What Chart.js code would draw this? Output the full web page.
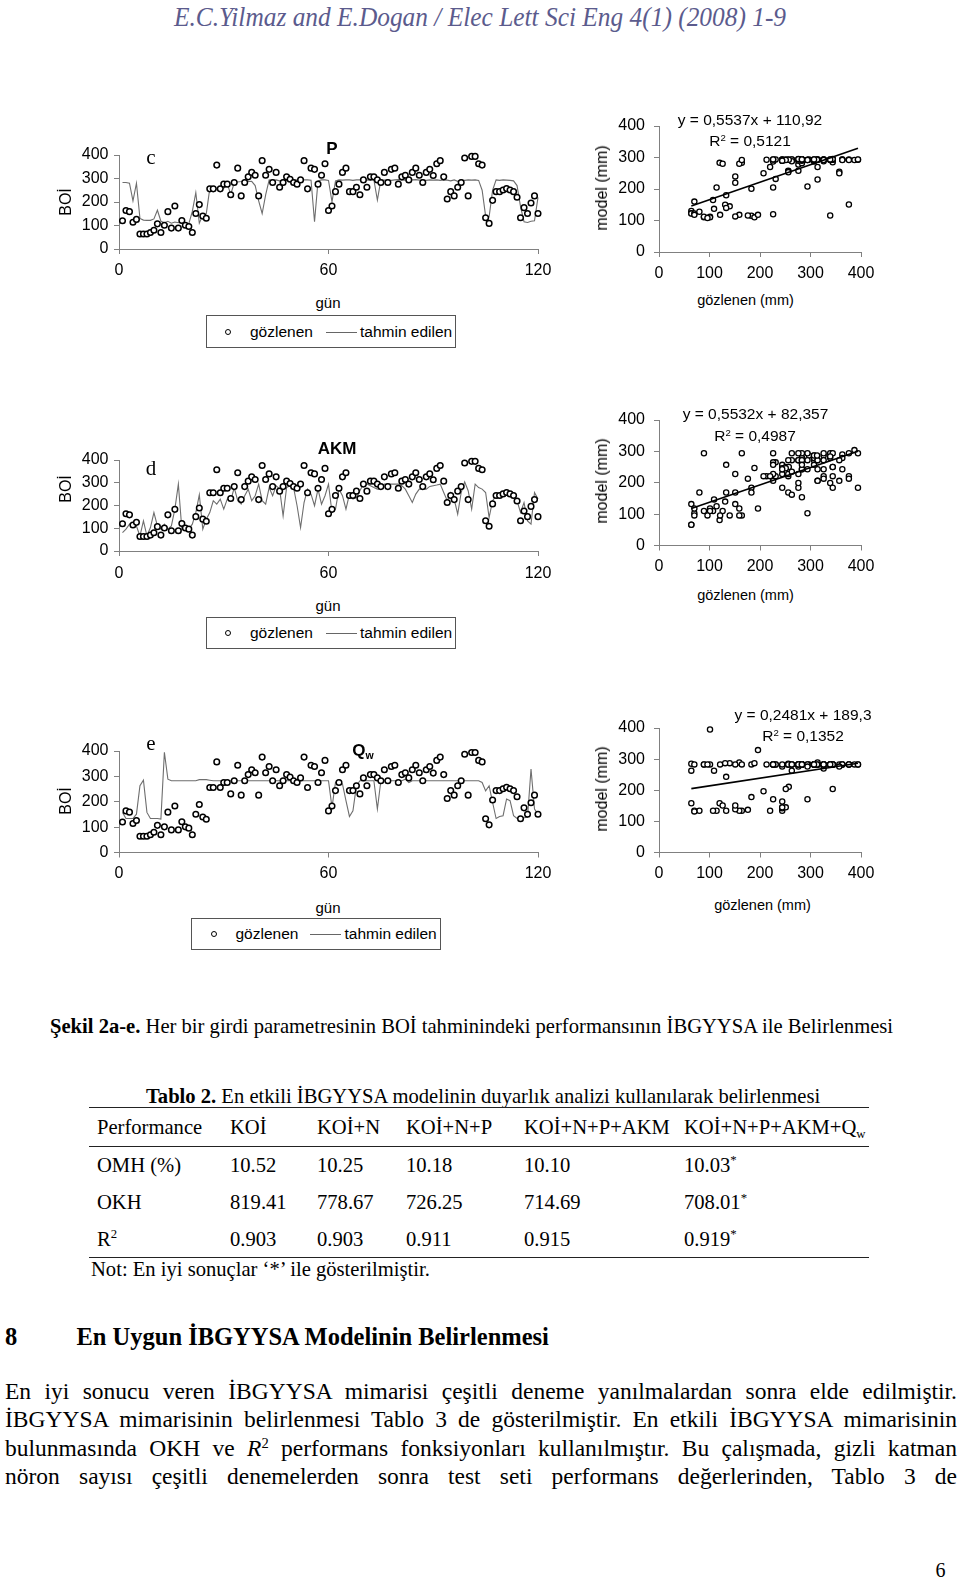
<!DOCTYPE html>
<html lang="tr"><head><meta charset="utf-8">
<title>Şekil 2a-e</title>
<script src="https://cdn.jsdelivr.net/npm/chart.js@4.4.1/dist/chart.umd.min.js"></script>
<style>
html,body{margin:0;padding:0;background:#fff;}
#page{position:relative;width:960px;height:1580px;overflow:hidden;background:#fff;color:#000;font-family:"Liberation Serif","Times New Roman",serif;}
#page canvas{position:absolute;}
.t{position:absolute;white-space:nowrap;line-height:1;}
.c{transform:translate(-50%,-50%);}
.lc{transform:translate(0,-50%);}
.rot{transform:translate(-50%,-50%) rotate(-90deg);}
.sans{font-family:"Liberation Sans",Arial,sans-serif;}
.legend{position:absolute;border:1px solid #555;box-sizing:border-box;font-family:"Liberation Sans",Arial,sans-serif;font-size:15.5px;}
.legend .mk{position:absolute;top:50%;width:4px;height:4px;border:1.3px solid #000;border-radius:50%;transform:translate(-50%,-50%);background:#fff;}
.legend .ln{position:absolute;top:50%;height:0;border-top:1px solid #666;}
.legend .lt{position:absolute;top:50%;transform:translateY(-50%);line-height:1;white-space:nowrap;}
.rule{position:absolute;height:0;border-top:1.5px solid #222;}
.sup{font-size:62%;position:relative;top:-0.55em;}
.sub{font-size:62%;position:relative;top:0.3em;}
.para{position:absolute;left:5px;width:952px;font-size:23.5px;line-height:1;text-align:justify;text-align-last:justify;white-space:nowrap;transform:translateY(-50%);}
</style></head>
<body>
<div id="page">
  <div class="t" style="left:479.5px;top:17px;font-style:italic;font-size:27px;color:#5b5b8d;transform:translate(-50%,-50%) scaleX(0.94)">E.C.Yilmaz and E.Dogan / Elec Lett Sci Eng 4(1) (2008) 1-9</div>

  <!-- row 1 -->
  <canvas id="l1"></canvas><canvas id="r1"></canvas>
  <div class="t rot sans" style="left:66px;top:201.5px;font-size:16px">BOİ</div>
  <div class="t c sans" style="left:328px;top:302px;font-size:15px">gün</div>
  <div class="t c" style="left:151px;top:157px;font-size:21px">c</div>
  <div class="t c sans" style="left:332px;top:148px;font-size:17px;font-weight:bold">P</div>
  <div class="legend" style="left:206px;top:315px;width:250px;height:33px">
    <span class="mk" style="left:21px"></span><span class="lt" style="left:43px">gözlenen</span><span class="ln" style="left:119px;width:31px"></span><span class="lt" style="left:153px">tahmin edilen</span>
  </div>
  <div class="t rot sans" style="left:602px;top:187.5px;font-size:16px">model (mm)</div>
  <div class="t c sans" style="left:745.5px;top:300px;font-size:14.5px">gözlenen (mm)</div>
  <div class="t c sans" style="left:750px;top:119.5px;font-size:15.5px">y = 0,5537x + 110,92</div>
  <div class="t c sans" style="left:750px;top:141px;font-size:15.5px">R<span class="sup">2</span> = 0,5121</div>

  <!-- row 2 -->
  <canvas id="l2"></canvas><canvas id="r2"></canvas>
  <div class="t rot sans" style="left:66px;top:489px;font-size:16px">BOİ</div>
  <div class="t c sans" style="left:328px;top:605px;font-size:15px">gün</div>
  <div class="t c" style="left:151px;top:468px;font-size:21px">d</div>
  <div class="t c sans" style="left:337px;top:448px;font-size:17px;font-weight:bold">AKM</div>
  <div class="legend" style="left:206px;top:617px;width:250px;height:32px">
    <span class="mk" style="left:21px"></span><span class="lt" style="left:43px">gözlenen</span><span class="ln" style="left:119px;width:31px"></span><span class="lt" style="left:153px">tahmin edilen</span>
  </div>
  <div class="t rot sans" style="left:602px;top:480.5px;font-size:16px">model (mm)</div>
  <div class="t c sans" style="left:745.5px;top:594.5px;font-size:14.5px">gözlenen (mm)</div>
  <div class="t c sans" style="left:755.5px;top:414px;font-size:15.5px">y = 0,5532x + 82,357</div>
  <div class="t c sans" style="left:755px;top:436px;font-size:15.5px">R<span class="sup">2</span> = 0,4987</div>

  <!-- row 3 -->
  <canvas id="l3"></canvas><canvas id="r3"></canvas>
  <div class="t rot sans" style="left:66px;top:801px;font-size:16px">BOİ</div>
  <div class="t c sans" style="left:328px;top:906.5px;font-size:15px">gün</div>
  <div class="t c" style="left:151px;top:743px;font-size:21px">e</div>
  <div class="t c sans" style="left:363px;top:750px;font-size:17px;font-weight:bold">Q<span class="sub">w</span></div>
  <div class="legend" style="left:191px;top:918px;width:250px;height:32px">
    <span class="mk" style="left:21.5px"></span><span class="lt" style="left:43.5px">gözlenen</span><span class="ln" style="left:118px;width:31px"></span><span class="lt" style="left:152.5px">tahmin edilen</span>
  </div>
  <div class="t rot sans" style="left:602px;top:788.5px;font-size:16px">model (mm)</div>
  <div class="t c sans" style="left:762.5px;top:905px;font-size:14.5px">gözlenen (mm)</div>
  <div class="t c sans" style="left:803px;top:715px;font-size:15.5px">y = 0,2481x + 189,3</div>
  <div class="t c sans" style="left:803px;top:736px;font-size:15.5px">R<span class="sup">2</span> = 0,1352</div>

  <!-- caption -->
  <div class="t lc" style="left:50px;top:1026px;font-size:20.6px"><b>Şekil 2a-e.</b> Her bir girdi parametresinin BOİ tahminindeki performansının İBGYYSA ile Belirlenmesi</div>

  <!-- table -->
  <div class="t lc" style="left:146px;top:1096px;font-size:20.6px"><b>Tablo 2.</b> En etkili İBGYYSA modelinin duyarlık analizi kullanılarak belirlenmesi</div>
  <div class="rule" style="left:89px;top:1107px;width:780px"></div>
  <div class="rule" style="left:89px;top:1145.5px;width:780px"></div>
  <div class="rule" style="left:89px;top:1256.5px;width:780px"></div>
  <div id="tbl"></div>
  <div class="t lc" style="left:91px;top:1269px;font-size:20.6px">Not: En iyi sonuçlar ‘*’ ile gösterilmiştir.</div>

  <!-- section -->
  <div class="t lc" style="left:5px;top:1337px;font-size:24.5px;font-weight:bold">8</div>
  <div class="t lc" style="left:76.5px;top:1337px;font-size:24.5px;font-weight:bold">En Uygun İBGYYSA Modelinin Belirlenmesi</div>
  <div class="para" style="top:1392px">En iyi sonucu veren İBGYYSA mimarisi çeşitli deneme yanılmalardan sonra elde edilmiştir.</div>
  <div class="para" style="top:1420px">İBGYYSA mimarisinin belirlenmesi Tablo 3 de gösterilmiştir. En etkili İBGYYSA mimarisinin</div>
  <div class="para" style="top:1448.5px">bulunmasında OKH ve <i>R</i><span class="sup">2</span> performans fonksiyonları kullanılmıştır. Bu çalışmada, gizli katman</div>
  <div class="para" style="top:1477px">nöron sayısı çeşitli denemelerden sonra test seti performans değerlerinden, Tablo 3 de</div>
  <div class="t c" style="left:940.5px;top:1569.5px;font-size:20px">6</div>
</div>

<script>
// ---------------- data ----------------
const dayTicks = [0, 60, 120];
const valueTicks = [0, 100, 200, 300, 400];
const scatterTicks = [0, 100, 200, 300, 400];
const days = Array.from({length: 120}, (_, i) => i + 1);

const observedBOI = [
  120,164,159,114,126,64,64,64,70,80,
  107,70,101,159,89,183,89,121,101,96,
  70,151,189,140,131,256,256,357,256,276,
  276,231,283,344,226,283,307,326,314,226,
  376,314,339,283,326,263,283,307,297,283,
  276,294,376,256,344,339,276,314,363,164,
  183,244,276,326,344,244,244,263,231,294,
  263,307,307,294,283,326,283,339,344,276,
  307,314,294,326,344,314,283,326,339,313,
  363,376,307,213,244,226,263,283,387,226,
  394,394,363,357,133,109,207,244,244,251,
  257,251,244,220,133,176,151,196,226,151
];

const predictedP = [
  283,283,280,205,280,130,123,122,122,128,
  165,118,112,118,110,115,112,118,110,108,
  160,240,110,145,150,258,256,255,253,258,
  278,232,282,285,287,290,287,288,270,205,
  151,230,294,292,294,290,294,292,294,293,
  294,292,294,294,293,116,290,294,294,292,
  201,290,294,293,294,294,292,294,294,293,
  294,292,294,208,294,293,294,292,294,295,
  293,294,292,294,295,293,294,292,294,293,
  294,292,294,293,290,294,288,294,292,294,
  293,294,292,250,140,137,250,294,292,294,
  293,292,290,270,180,116,113,118,120,220
];

const predictedAKM = [
  81,96,118,125,110,66,132,66,103,169,
  110,96,118,96,110,184,294,96,110,96,
  118,169,247,96,140,169,221,206,228,184,
  228,221,279,221,206,243,272,221,243,294,
  221,206,279,243,287,272,154,279,287,279,
  199,103,213,272,250,199,272,206,243,294,
  169,184,272,243,184,250,228,235,265,294,
  294,287,279,272,272,294,294,294,294,294,
  287,272,243,213,250,272,272,272,284,287,
  290,294,257,221,257,228,162,257,304,265,
  184,294,279,272,257,147,221,243,246,250,
  250,246,243,221,169,213,132,118,257,228
];

const predictedQw = [
  158,134,134,134,151,263,285,158,134,134,
  134,132,395,289,283,283,283,283,283,283,
  283,283,287,287,287,285,283,283,283,283,
  283,283,283,283,283,283,283,283,283,283,
  283,283,283,283,283,283,283,283,283,283,
  276,283,283,283,283,283,283,283,283,283,
  178,276,283,270,204,142,164,263,283,283,
  283,283,283,171,283,283,283,283,283,283,
  283,289,276,283,283,283,283,283,283,283,
  283,283,283,283,283,283,283,283,283,283,
  283,283,283,276,243,263,197,134,142,145,
  211,204,145,134,134,137,139,329,171,151
];

// regression trend lines (end points at min / max observed)
const trendX = [64, 394];
const trendP = [146.3, 329.1];
const trendAKM = [117.8, 300.3];
const trendQw = [205.2, 287.0];

// ---------------- table ----------------
const tableCols = [97, 230, 317, 406, 524, 684];
const tableRows = [
  {y:1127, cells:['Performance','KOİ','KOİ+N','KOİ+N+P','KOİ+N+P+AKM','KOİ+N+P+AKM+Q<span class="sub">w</span>']},
  {y:1164.5, cells:['OMH (%)','10.52','10.25','10.18','10.10','10.03<span class="sup">*</span>']},
  {y:1202, cells:['OKH','819.41','778.67','726.25','714.69','708.01<span class="sup">*</span>']},
  {y:1238.5, cells:['R<span class="sup">2</span>','0.903','0.903','0.911','0.915','0.919<span class="sup">*</span>']}
];
(function(){
  const host = document.getElementById('tbl');
  let html = '';
  tableRows.forEach(r => r.cells.forEach((c, j) => {
    html += '<div class="t lc" style="left:' + tableCols[j] + 'px;top:' + r.y + 'px;font-size:20.6px">' + c + '</div>';
  }));
  host.innerHTML = html;
})();

// ---------------- charts ----------------
const AX = '#808080';
const TL = 5;
const TICKFONT = {family: "'Liberation Sans', Arial, sans-serif", size: 16};
const LH = 16 * 1.2;

function makeChart(id, box, area, labelRight, labelCY, xMax, xTickArr, datasets) {
  const cv = document.getElementById(id);
  cv.width = box.w; cv.height = box.h;
  cv.style.left = box.x + 'px'; cv.style.top = box.y + 'px';
  const yW = area.l - box.x;
  const xH = box.y + box.h - area.b;
  const axisCommon = {
    grid: {drawOnChartArea: false, drawTicks: true, tickLength: TL, color: AX, lineWidth: 1},
    border: {display: true, color: AX, width: 1}
  };
  new Chart(cv, {
    type: 'scatter',
    data: {datasets},
    options: {
      responsive: false, animation: false, devicePixelRatio: 1,
      layout: {padding: {left: 0, top: area.t - box.y, right: box.x + box.w - area.r, bottom: 0}},
      plugins: {legend: {display: false}, tooltip: {enabled: false}},
      scales: {
        x: Object.assign({
          type: 'linear', min: 0, max: xMax,
          afterBuildTicks: s => { s.ticks = xTickArr.map(v => ({value: v})); },
          afterFit: s => { s.height = xH; },
          ticks: {padding: labelCY - area.b - TL - LH / 2, font: TICKFONT, color: '#000', maxRotation: 0, autoSkip: false}
        }, axisCommon),
        y: Object.assign({
          type: 'linear', min: 0, max: 400,
          afterBuildTicks: s => { s.ticks = valueTicks.map(v => ({value: v})); },
          afterFit: s => { s.width = yW; },
          ticks: {padding: area.l - TL - labelRight, font: TICKFONT, color: '#000'}
        }, axisCommon)
      }
    }
  });
}

function timeSets(pred) {
  return [
    {label: 'gözlenen', data: days.map((d, i) => ({x: d, y: observedBOI[i]})),
     showLine: false, pointStyle: 'circle', pointRadius: 2.8, pointBorderWidth: 1.5,
     pointBorderColor: '#000', pointBackgroundColor: '#fff', clip: false},
    {label: 'tahmin edilen', data: days.map((d, i) => ({x: d, y: pred[i]})),
     showLine: true, borderColor: '#6e6e6e', borderWidth: 1.1, pointRadius: 0, tension: 0, clip: false}
  ];
}
function scatterSets(pred, trend) {
  return [
    {label: 'trend', data: trendX.map((x, i) => ({x: x, y: trend[i]})),
     showLine: true, borderColor: '#000', borderWidth: 1.6, pointRadius: 0, tension: 0},
    {label: 'model', data: observedBOI.map((o, i) => ({x: o, y: pred[i]})),
     showLine: false, pointStyle: 'circle', pointRadius: 2.6, pointBorderWidth: 1.3,
     pointBorderColor: '#000', pointBackgroundColor: '#fff', clip: false}
  ];
}

makeChart('l1', {x:0, y:130, w:560, h:160}, {l:119, r:538, t:155, b:249}, 108.5, 271, 120, dayTicks, timeSets(predictedP));
makeChart('r1', {x:570, y:100, w:320, h:190}, {l:659, r:861, t:126, b:252}, 645, 273.5, 400, scatterTicks, scatterSets(predictedP, trendP));
makeChart('l2', {x:0, y:435, w:560, h:160}, {l:119, r:538, t:460, b:551}, 108.5, 574, 120, dayTicks, timeSets(predictedAKM));
makeChart('r2', {x:570, y:395, w:320, h:190}, {l:659, r:861, t:420, b:545.5}, 645, 567, 400, scatterTicks, scatterSets(predictedAKM, trendAKM));
makeChart('l3', {x:0, y:725, w:560, h:170}, {l:119, r:538, t:751, b:852.5}, 108.5, 874, 120, dayTicks, timeSets(predictedQw));
makeChart('r3', {x:570, y:700, w:320, h:195}, {l:659, r:861, t:728, b:852.5}, 645, 873.5, 400, scatterTicks, scatterSets(predictedQw, trendQw));
</script>
</body></html>
